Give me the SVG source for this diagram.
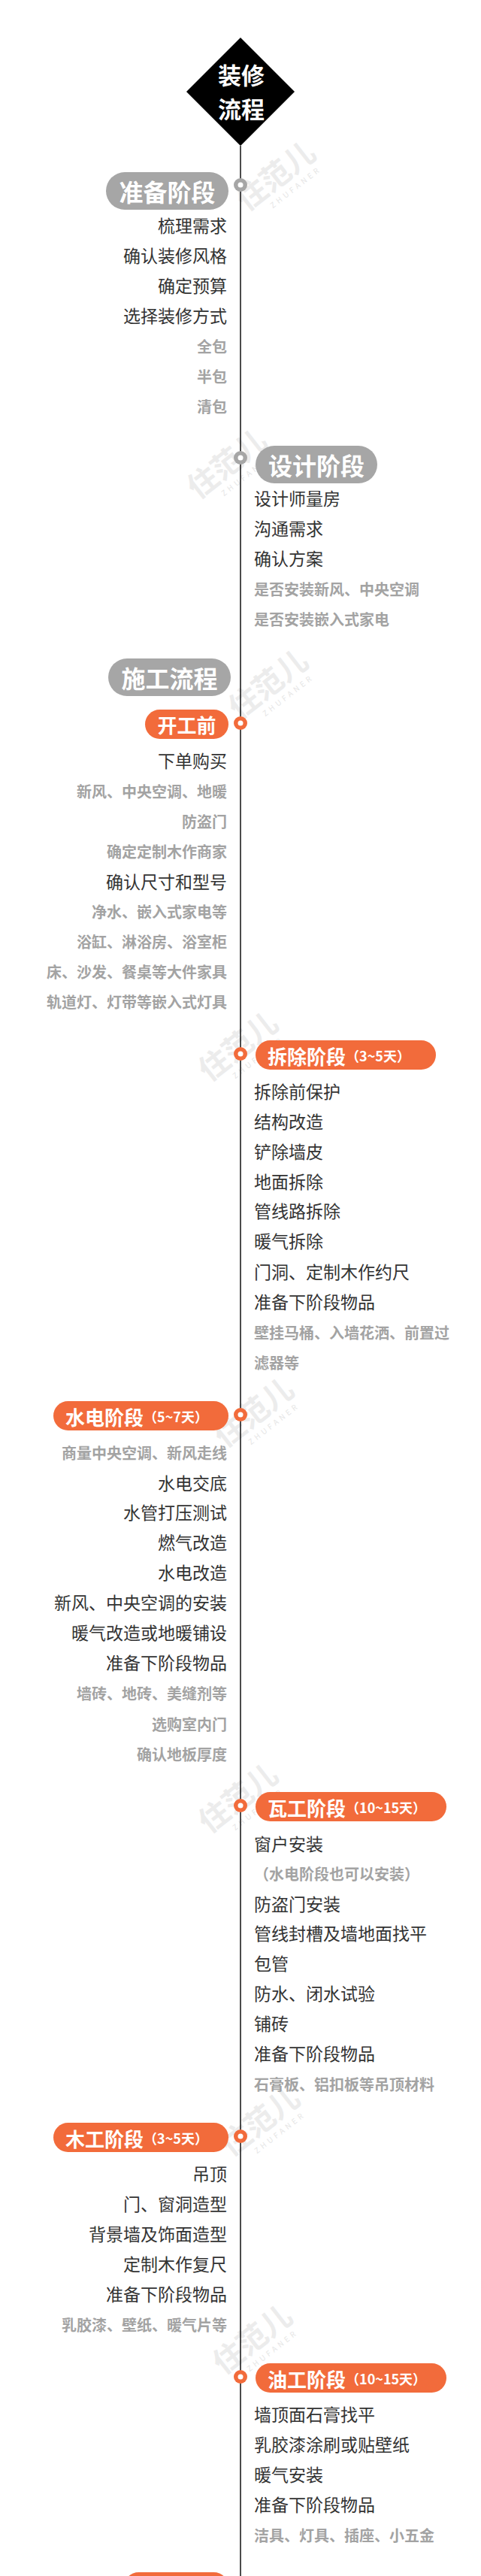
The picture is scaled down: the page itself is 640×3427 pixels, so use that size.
<svg xmlns="http://www.w3.org/2000/svg" width="640" height="3427" viewBox="0 0 640 3427">
<style>
  text { font-family: "Noto Sans CJK SC", "Noto Sans", sans-serif; dominant-baseline: central; }
  .item { font-size: 23px; fill: #333333; }
  .sub { font-size: 20px; fill: #a3a3a3; font-weight: bold; }
  .l { text-anchor: end; }
  .gpill { fill: #a6a6a6; }
  .opill { fill: #f26b3b; }
  .gtitle { font-size: 32px; fill: #ffffff; font-weight: bold; text-anchor: middle; }
  .otitle { font-size: 26px; fill: #ffffff; font-weight: bold; }
  .days { font-size: 18px; font-weight: bold; }
  .gdot { fill: #a6a6a6; }
  .odot { fill: #f26b3b; }
  .hole { fill: #ffffff; }
  .wm { font-size: 40px; font-weight: bold; fill: #ececec; text-anchor: middle; }
  .wm2 { font-size: 10px; fill: #e6e6e6; letter-spacing: 4px; text-anchor: middle; }
</style>
<defs>
  <g id="wmark">
    <text class="wm" x="0" y="0">住范儿</text>
    <text class="wm2" x="12" y="30">ZHUFANER</text>
  </g>
</defs>
<rect width="640" height="3427" fill="#ffffff"/>

<g id="watermarks">
  <use href="#wmark" transform="translate(365,232) rotate(-38)"/>
  <use href="#wmark" transform="translate(300,615) rotate(-38)"/>
  <use href="#wmark" transform="translate(355,908) rotate(-38)"/>
  <use href="#wmark" transform="translate(315,1390) rotate(-38)"/>
  <use href="#wmark" transform="translate(336,1877) rotate(-38)"/>
  <use href="#wmark" transform="translate(315,2390) rotate(-38)"/>
  <use href="#wmark" transform="translate(344,2820) rotate(-38)"/>
  <use href="#wmark" transform="translate(334,3110) rotate(-38)"/>
</g>

<g id="connectors">
  <line x1="320" y1="194" x2="320" y2="3427" stroke="#111111" stroke-width="1.5"/>
</g>

<g id="root">
  <polygon points="320,50 392,122 320,194 248,122" fill="#000000"/>
  <text x="321" y="98" font-size="31" font-weight="bold" fill="#ffffff" text-anchor="middle">装修</text>
  <text x="321" y="143" font-size="31" font-weight="bold" fill="#ffffff" text-anchor="middle">流程</text>
</g>

<g id="prep">
  <rect class="gpill" x="141" y="229" width="163" height="50" rx="25"/>
  <text class="gtitle" x="222.5" y="254">准备阶段</text>
  <circle class="gdot" cx="320" cy="246" r="9"/><circle class="hole" cx="320" cy="246" r="3.5"/>
  <text class="item l" x="302" y="299">梳理需求</text>
  <text class="item l" x="302" y="339">确认装修风格</text>
  <text class="item l" x="302" y="379">确定预算</text>
  <text class="item l" x="302" y="419">选择装修方式</text>
  <text class="sub l" x="302" y="460">全包</text>
  <text class="sub l" x="302" y="500">半包</text>
  <text class="sub l" x="302" y="540">清包</text>
</g>

<g id="design">
  <rect class="gpill" x="340" y="593" width="162" height="50" rx="25"/>
  <text class="gtitle" x="421" y="618">设计阶段</text>
  <circle class="gdot" cx="320" cy="609" r="9"/><circle class="hole" cx="320" cy="609" r="3.5"/>
  <text class="item" x="338" y="662">设计师量房</text>
  <text class="item" x="338" y="702">沟通需求</text>
  <text class="item" x="338" y="742">确认方案</text>
  <text class="sub" x="338" y="783">是否安装新风、中央空调</text>
  <text class="sub" x="338" y="823">是否安装嵌入式家电</text>
</g>

<g id="construction">
  <rect class="gpill" x="144" y="876" width="163" height="50" rx="25"/>
  <text class="gtitle" x="225.5" y="901">施工流程</text>
</g>

<g id="before">
  <rect class="opill" x="193" y="944" width="111" height="39" rx="19.5"/>
  <text class="otitle" x="248.5" y="963" text-anchor="middle">开工前</text>
  <circle class="odot" cx="320" cy="962" r="9"/><circle class="hole" cx="320" cy="962" r="3.5"/>
  <text class="item l" x="302" y="1011">下单购买</text>
  <text class="sub l" x="302" y="1052">新风、中央空调、地暖</text>
  <text class="sub l" x="302" y="1092">防盗门</text>
  <text class="sub l" x="302" y="1132">确定定制木作商家</text>
  <text class="item l" x="302" y="1172">确认尺寸和型号</text>
  <text class="sub l" x="302" y="1212">净水、嵌入式家电等</text>
  <text class="sub l" x="302" y="1252">浴缸、淋浴房、浴室柜</text>
  <text class="sub l" x="302" y="1292">床、沙发、餐桌等大件家具</text>
  <text class="sub l" x="302" y="1332">轨道灯、灯带等嵌入式灯具</text>
</g>

<g id="demolition">
  <rect class="opill" x="340" y="1384" width="240" height="39" rx="19.5"/>
  <text class="otitle" x="356" y="1404">拆除阶段<tspan class="days">（3~5天）</tspan></text>
  <circle class="odot" cx="320" cy="1402" r="9"/><circle class="hole" cx="320" cy="1402" r="3.5"/>
  <text class="item" x="338" y="1451">拆除前保护</text>
  <text class="item" x="338" y="1491">结构改造</text>
  <text class="item" x="338" y="1531">铲除墙皮</text>
  <text class="item" x="338" y="1571">地面拆除</text>
  <text class="item" x="338" y="1610">管线路拆除</text>
  <text class="item" x="338" y="1650">暖气拆除</text>
  <text class="item" x="338" y="1691">门洞、定制木作约尺</text>
  <text class="item" x="338" y="1731">准备下阶段物品</text>
  <text class="sub" x="338" y="1772">壁挂马桶、入墙花洒、前置过</text>
  <text class="sub" x="338" y="1812">滤器等</text>
</g>

<g id="plumbing">
  <rect class="opill" x="71" y="1864" width="233" height="39" rx="19.5"/>
  <text class="otitle" x="87" y="1884">水电阶段<tspan class="days">（5~7天）</tspan></text>
  <circle class="odot" cx="320" cy="1882" r="9"/><circle class="hole" cx="320" cy="1882" r="3.5"/>
  <text class="sub l" x="302" y="1932">商量中央空调、新风走线</text>
  <text class="item l" x="302" y="1972">水电交底</text>
  <text class="item l" x="302" y="2011">水管打压测试</text>
  <text class="item l" x="302" y="2051">燃气改造</text>
  <text class="item l" x="302" y="2091">水电改造</text>
  <text class="item l" x="302" y="2131">新风、中央空调的安装</text>
  <text class="item l" x="302" y="2171">暖气改造或地暖铺设</text>
  <text class="item l" x="302" y="2211">准备下阶段物品</text>
  <text class="sub l" x="302" y="2252">墙砖、地砖、美缝剂等</text>
  <text class="sub l" x="302" y="2293">选购室内门</text>
  <text class="sub l" x="302" y="2333">确认地板厚度</text>
</g>

<g id="tiling">
  <rect class="opill" x="340" y="2384" width="254" height="39" rx="19.5"/>
  <text class="otitle" x="356" y="2404">瓦工阶段<tspan class="days">（10~15天）</tspan></text>
  <circle class="odot" cx="320" cy="2402" r="9"/><circle class="hole" cx="320" cy="2402" r="3.5"/>
  <text class="item" x="338" y="2452">窗户安装</text>
  <text class="sub" x="338" y="2492">（水电阶段也可以安装）</text>
  <text class="item" x="338" y="2532">防盗门安装</text>
  <text class="item" x="338" y="2571">管线封槽及墙地面找平</text>
  <text class="item" x="338" y="2611">包管</text>
  <text class="item" x="338" y="2651">防水、闭水试验</text>
  <text class="item" x="338" y="2691">铺砖</text>
  <text class="item" x="338" y="2731">准备下阶段物品</text>
  <text class="sub" x="338" y="2772">石膏板、铝扣板等吊顶材料</text>
</g>

<g id="carpentry">
  <rect class="opill" x="71" y="2824" width="233" height="39" rx="19.5"/>
  <text class="otitle" x="87" y="2844">木工阶段<tspan class="days">（3~5天）</tspan></text>
  <circle class="odot" cx="320" cy="2842" r="9"/><circle class="hole" cx="320" cy="2842" r="3.5"/>
  <text class="item l" x="302" y="2891">吊顶</text>
  <text class="item l" x="302" y="2931">门、窗洞造型</text>
  <text class="item l" x="302" y="2971">背景墙及饰面造型</text>
  <text class="item l" x="302" y="3011">定制木作复尺</text>
  <text class="item l" x="302" y="3051">准备下阶段物品</text>
  <text class="sub l" x="302" y="3092">乳胶漆、壁纸、暖气片等</text>
</g>

<g id="painting">
  <rect class="opill" x="340" y="3144" width="254" height="39" rx="19.5"/>
  <text class="otitle" x="356" y="3164">油工阶段<tspan class="days">（10~15天）</tspan></text>
  <circle class="odot" cx="320" cy="3162" r="9"/><circle class="hole" cx="320" cy="3162" r="3.5"/>
  <text class="item" x="338" y="3211">墙顶面石膏找平</text>
  <text class="item" x="338" y="3251">乳胶漆涂刷或贴壁纸</text>
  <text class="item" x="338" y="3291">暖气安装</text>
  <text class="item" x="338" y="3331">准备下阶段物品</text>
  <text class="sub" x="338" y="3372">洁具、灯具、插座、小五金</text>
</g>

<g id="next">
  <rect class="opill" x="165" y="3422" width="139" height="39" rx="19.5"/>
</g>
</svg>
